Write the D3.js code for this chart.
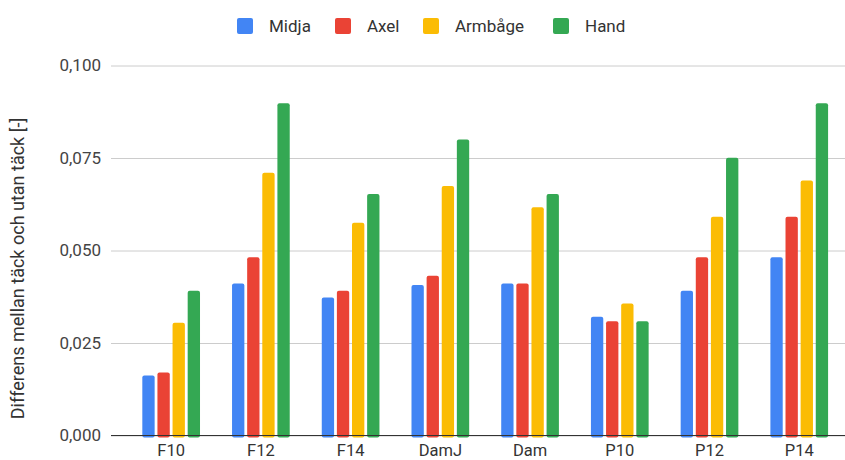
<!DOCTYPE html>
<html><head><meta charset="utf-8">
<script src="https://cdn.jsdelivr.net/npm/d3@7"></script>
<style>
html,body{margin:0;padding:0;background:#fff;}
svg{display:block;font-family:Roboto,"Noto Sans",sans-serif;}
</style></head>
<body>
<svg id="chart" width="845" height="460"></svg>
<script>
const categories = ["F10","F12","F14","DamJ","Dam","P10","P12","P14"];
const seriesNames = ["Midja","Axel","Armbåge","Hand"];
const midja   = [0.0162,0.0411,0.0373,0.0407,0.0411,0.0321,0.0391,0.0482];
const axel    = [0.0170,0.0482,0.0391,0.0432,0.0411,0.0309,0.0482,0.0591];
const armbage = [0.0305,0.0710,0.0575,0.0674,0.0617,0.0357,0.0591,0.0689];
const hand    = [0.0391,0.0898,0.0653,0.0800,0.0653,0.0309,0.0751,0.0898];
const yTicks  = [0,0.025,0.05,0.075,0.1];
const colors  = ["#4285F4","#EA4335","#FBBC04","#34A853"];
const yTitle  = "Differens mellan täck och utan täck [-]";

const seriesValues = [midja, axel, armbage, hand];
const svg = d3.select("#chart");
const plotLeft = 111, plotRight = 845, plotTop = 65.5, plotBottom = 435.5;

const y = d3.scaleLinear().domain([0,0.1]).range([plotBottom, plotTop]);
const x0 = d3.scaleBand().domain(categories).range([126.3, 844.1]).paddingInner(0.357).paddingOuter(0.1785);
const x1 = d3.scaleBand().domain(seriesNames).range([0, x0.bandwidth()]).paddingInner(0.185).paddingOuter(0);
const color = d3.scaleOrdinal().domain(seriesNames).range(colors);
const loc = d3.formatLocale({decimal:",", thousands:" ", grouping:[3], currency:["","kr"]});
const fmt = loc.format(".3f");

// gridlines + y labels
const yAxis = svg.append("g").attr("transform", `translate(${plotLeft},0)`)
  .call(d3.axisLeft(y).tickValues(yTicks).tickFormat(fmt).tickSize(-(plotRight-plotLeft)).tickPadding(10));
yAxis.select(".domain").remove();
yAxis.selectAll(".tick line").attr("stroke", "#cccccc").attr("stroke-width", 1);
yAxis.selectAll(".tick text").attr("fill", "#444").style("font-size", "17px").style("font-family", "Roboto");

// bars
const groups = svg.append("g").selectAll("g").data(categories).join("g")
  .attr("transform", d => `translate(${x0(d)},0)`);
groups.selectAll("rect").data((c, i) => seriesNames.map((s, j) => ({s, v: seriesValues[j][i]})))
  .join("rect")
  .attr("x", d => x1(d.s))
  .attr("width", x1.bandwidth())
  .attr("y", d => y(d.v))
  .attr("height", d => plotBottom - y(d.v) + 2)
  .attr("rx", 2)
  .attr("fill", d => color(d.s));

// baseline + x labels
const xAxis = svg.append("g").attr("transform", `translate(0,${plotBottom})`)
  .call(d3.axisBottom(x0).tickSize(0));
xAxis.select(".domain").remove();
xAxis.selectAll(".tick text").attr("y", 20).attr("dy", null).attr("fill", "#333")
  .style("font-size", "16.5px").style("font-family", "Roboto");
svg.append("line").attr("x1", plotLeft).attr("x2", plotRight).attr("y1", plotBottom).attr("y2", plotBottom)
  .attr("stroke", "#333").attr("stroke-width", 1.2);

// y title
svg.append("text").attr("transform", `translate(24,${(110+427)/2}) rotate(-90)`)
  .attr("text-anchor", "middle").attr("fill", "#333").style("font-size", "18px").text(yTitle);

// legend
const legendX = [237, 335, 423, 553];
const lg = svg.append("g").selectAll("g").data(seriesNames).join("g")
  .attr("transform", (d, i) => `translate(${legendX[i]},18)`);
lg.append("rect").attr("width", 16).attr("height", 16).attr("rx", 2).attr("fill", d => color(d));
lg.append("text").attr("x", 32).attr("y", 8).attr("dy", "0.35em").attr("fill", "#333")
  .style("font-size", "17px").text(d => d);
</script>
</body></html>
